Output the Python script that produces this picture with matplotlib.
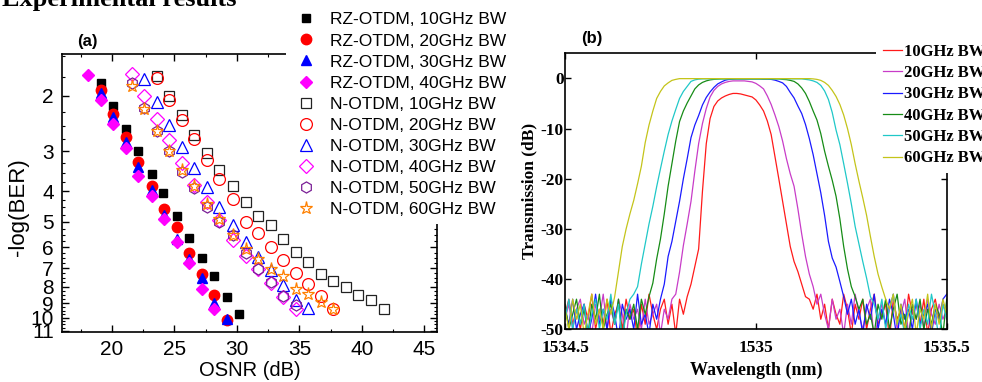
import numpy as np
import matplotlib.pyplot as plt
from matplotlib.ticker import FixedLocator, MultipleLocator, NullFormatter

plt.rcParams['axes.unicode_minus'] = False

# ---------------- (a) -log(BER) vs OSNR ----------------
rz10_x = [19.1, 20.1, 21.1, 22.1, 23.2, 24.1, 25.2, 26.2, 27.2, 28.2, 29.2, 30.2]
rz10_y = [1.82, 2.15, 2.55, 3.0, 3.54, 4.06, 4.8, 5.62, 6.5, 7.42, 8.61, 9.72]
rz20_x = [19.1, 20.1, 21.1, 22.1, 23.2, 24.2, 25.2, 26.2, 27.2, 28.2, 29.2]
rz20_y = [1.92, 2.28, 2.71, 3.24, 3.84, 4.54, 5.19, 6.25, 7.27, 8.51, 10.2]
rz30_x = [19.1, 20.1, 21.1, 22.1, 23.2, 24.2, 25.2, 26.2, 27.2, 28.2, 29.2]
rz30_y = [1.97, 2.34, 2.80, 3.36, 3.96, 4.77, 5.67, 6.52, 7.51, 9.02, 10.1]
rz40_x = [18.1, 19.1, 20.1, 21.1, 22.1, 23.2, 24.2, 25.2, 26.2, 27.2, 28.2]
rz40_y = [1.72, 2.06, 2.45, 2.93, 3.59, 4.13, 4.90, 5.80, 6.74, 8.11, 9.40]

n10_x = [23.6, 24.6, 25.6, 26.6, 27.6, 28.6, 29.7, 30.7, 31.7, 32.7, 33.7, 34.7,
         35.7, 36.7, 37.7, 38.7, 39.7, 40.7, 41.8]
n10_y = [1.73, 2.0, 2.31, 2.66, 3.04, 3.44, 3.85, 4.34, 4.80, 5.10, 5.67, 6.23,
         6.70, 7.30, 7.68, 8.01, 8.50, 8.79, 9.42]
n20_x = [23.6, 24.6, 25.6, 26.6, 27.6, 28.6, 29.7, 30.7, 31.7, 32.7, 33.7, 34.7,
         35.7, 36.7, 37.7]
n20_y = [1.76, 2.06, 2.38, 2.74, 3.19, 3.66, 4.23, 5.01, 5.41, 6.0, 6.59, 7.23,
         7.86, 8.56, 9.42]
n30_x = [22.6, 23.6, 24.6, 25.6, 26.6, 27.6, 28.6, 29.7, 30.7, 31.7, 32.7, 33.7,
         34.7, 35.7]
n30_y = [1.78, 2.10, 2.47, 2.91, 3.38, 3.89, 4.47, 5.11, 5.79, 6.43, 7.08, 7.87,
         8.83, 9.30]
n40_x = [21.6, 22.6, 23.6, 24.6, 25.6, 26.6, 27.6, 28.6, 29.7, 30.7, 31.7, 32.7,
         33.7, 34.7]
n40_y = [1.71, 2.01, 2.37, 2.76, 3.27, 3.82, 4.33, 4.92, 5.71, 6.39, 7.05, 7.80,
         8.63, 9.37]
n50_x = [21.6, 22.6, 23.6, 24.6, 25.6, 26.6, 27.6, 28.6, 29.7, 30.7, 31.7, 32.7,
         33.7, 34.7]
n50_y = [1.83, 2.19, 2.58, 2.99, 3.49, 3.92, 4.49, 5.01, 5.48, 6.26, 7.05, 7.73,
         8.55, 9.15]
n60_x = [21.6, 22.6, 23.6, 24.6, 25.6, 26.6, 27.6, 28.6, 29.7, 30.7, 31.7, 32.7,
         33.7, 34.7, 35.7, 36.7, 37.7]
n60_y = [1.87, 2.20, 2.58, 2.98, 3.44, 3.85, 4.38, 4.88, 5.48, 6.09, 6.52, 7.05,
         7.40, 8.15, 8.45, 8.93, 9.42]

ber_ticks = [2, 3, 4, 5, 6, 7, 8, 9, 10, 11]
osnr_ticks = [20, 25, 30, 35, 40, 45]

# ---------------- (b) filter transmission ----------------
wl = np.round(np.linspace(1534.5, 1535.5, 101), 2)  # OSA grid, 0.01 nm

t10 = ([-47, -44, -49, -46, -50, -45, -48, -43, -50, -46, -49, -44, -51, -47, -45, -50,
        -44, -48, -46, -52, -45, -49, -43, -47, -50, -46, -44, -49, -45, -51, -44, -47]
       + [-43.5, -41, -37.5, -34, -22.5, -13, -8, -5.6, -4.5, -3.9, -3.5, -3.2, -3.0, -3.0,
          -3.1, -3.3, -3.5, -3.7, -4.3, -5.3, -6.5, -8.5, -11.2, -15.6, -20, -24.5, -29,
          -33.5, -36.5, -38.5, -41, -43.5]
       + [-44, -46, -43, -48, -45, -50, -44, -47, -49, -43, -46, -51, -45, -48, -44, -50,
          -46, -43, -49, -47, -45, -52, -44, -48, -46, -50, -43, -47, -45, -49, -44, -51,
          -46, -44, -48, -45, -47])
t20 = ([-48, -45, -50, -46, -44, -49, -47, -51, -45, -48, -43, -50, -46, -49, -44, -47,
        -52, -45, -48, -46, -50, -44, -49, -47, -45, -51, -46, -48, -44]
       + [-43, -38.6, -33.3, -29, -24.5, -18.5, -13, -9, -6, -3.7, -2.4, -1.6, -1.1, -0.8,
          -0.6, -0.5, -0.5, -0.5, -0.5, -0.6, -0.7, -1.0, -1.5, -2.1, -3.5, -5.2, -7.3,
          -9.6, -12.5, -16, -19, -21.5, -26, -31, -35.5, -39, -41.5]
       + [-45, -43, -47, -50, -44, -48, -46, -51, -45, -49, -43, -47, -50, -46, -44, -52,
          -48, -45, -49, -46, -43, -50, -47, -44, -51, -46, -48, -45, -50, -44, -47, -49,
          -45, -48, -46])
t30 = ([-46, -49, -44, -50, -47, -45, -51, -48, -43, -49, -46, -50, -44, -47, -52, -45,
        -48, -46, -50, -43, -49, -47, -51, -45, -48, -44]
       + [-41, -35.5, -32.5, -28.5, -24.5, -20, -16, -11.8, -9.3, -7.4, -5.3, -3.8, -2.7,
          -1.8, -1.1, -0.7, -0.35, -0.2, -0.15, -0.1, -0.1, -0.1, -0.1, -0.1, -0.1, -0.1,
          -0.15, -0.15, -0.2, -0.35, -0.6, -0.9, -1.6, -2.8, -3.9, -5.5, -7, -9.2, -12,
          -15.2, -19, -22.8, -27.3, -32.5, -35.8, -37.6, -40.5, -43.5]
       + [-47, -44, -49, -46, -51, -45, -48, -43, -50, -46, -49, -44, -47, -52, -45, -48,
          -46, -50, -44, -49, -47, -45, -51, -46, -48, -44, -43])
t40 = ([-45, -50, -47, -44, -49, -46, -51, -45, -48, -43, -50, -47, -45, -49, -44, -52,
        -46, -48, -45, -50, -44, -47]
       + [-43.5, -40.8, -36, -32, -27, -21.5, -17, -12.5, -8.6, -6.5, -4.9, -3.5, -2.1,
          -1.3, -0.8, -0.5, -0.3, -0.2, -0.15, -0.1, -0.1, -0.1, -0.1, -0.1, -0.1, -0.1,
          -0.1, -0.1, -0.1, -0.1, -0.1, -0.1, -0.1, -0.1, -0.1, -0.2, -0.25, -0.4, -0.6,
          -1.1, -1.9, -3.0, -4.6, -6.5, -8.3, -11, -14.5, -17.5, -20.3, -23.5, -28, -33.5,
          -38, -41.5, -43.5]
       + [-46, -44, -49, -47, -51, -45, -48, -44, -50, -46, -43, -49, -47, -52, -45, -48,
          -44, -50, -46, -49, -45, -47, -51, -44])
t50 = ([-48, -44, -50, -46, -49, -45, -51, -47, -44, -50, -46, -48, -43, -49, -45, -52,
        -47, -44]
       + [-43, -41.5, -37, -33, -29, -25.5, -21.6, -18, -14.5, -11.2, -8.5, -6.2, -4, -2.6,
          -1.6, -0.6, -0.3, -0.15, -0.1, -0.1, -0.1, -0.1, -0.1, -0.1, -0.1, -0.1, -0.1,
          -0.1, -0.1, -0.1, -0.1, -0.1, -0.1, -0.1, -0.1, -0.1, -0.1, -0.1, -0.1, -0.1,
          -0.1, -0.1, -0.1, -0.1, -0.1, -0.2, -0.3, -0.5, -0.8, -1.4, -2.5, -4.2, -6.8,
          -10.3, -13.2, -17, -20.9, -25, -29.5, -33, -36.5, -39.8, -43.5]
       + [-45, -48, -44, -50, -46, -43, -49, -47, -51, -45, -48, -44, -50, -46, -49, -43,
          -47, -52, -45, -48])
t60 = ([-46, -50, -44, -48, -45, -51, -47, -43, -49, -46, -50, -44, -47]
       + [-43.5, -38.5, -33.5, -30, -27, -24.3, -21, -17.5, -12.8, -9.3, -6.5, -4, -2.6,
          -1.5, -0.9, -0.4, -0.2, -0.05, -0.05, -0.05, -0.05, -0.05, -0.05, -0.05, -0.05,
          -0.05, -0.05, -0.05, -0.05, -0.05, -0.05, -0.05, -0.05, -0.05, -0.05, -0.05,
          -0.05, -0.05, -0.05, -0.05, -0.05, -0.05, -0.05, -0.05, -0.05, -0.05, -0.05,
          -0.05, -0.05, -0.05, -0.05, -0.05, -0.1, -0.2, -0.4, -0.8, -1.4, -2.4, -3.6,
          -5.2, -7.3, -10, -13.2, -17, -20.5, -23.8, -27.3, -31.5, -35.5, -39, -41.6, -44]
       + [-46, -43, -49, -45, -50, -47, -44, -51, -46, -48, -43, -50, -45, -49, -44, -47])

filter_labels = ['10GHz BW', '20GHz BW', '30GHz BW', '40GHz BW', '50GHz BW', '60GHz BW']
filter_colors = ['#ff1a1a', '#c83cc8', '#1a1aff', '#168c16', '#20c8c8', '#c4c41a']

sans = 'Liberation Sans'
serif = 'Liberation Serif'

fig = plt.figure(figsize=(9.82, 3.82), dpi=100)

# ---- panel (a) ----
ax = fig.add_axes([0.0631, 0.1309, 0.3819, 0.7277])
mk = dict(linestyle='none')
ax.plot(rz10_x, rz10_y, marker='s', ms=6, color='black', label='RZ-OTDM, 10GHz BW', **mk)
ax.plot(rz20_x, rz20_y, marker='o', ms=7.5, color='#ff0000', label='RZ-OTDM, 20GHz BW', **mk)
ax.plot(rz30_x, rz30_y, marker='^', ms=7.5, color='#0000ff', label='RZ-OTDM, 30GHz BW', **mk)
ax.plot(rz40_x, rz40_y, marker='D', ms=6.5, color='#ff00ff', label='RZ-OTDM, 40GHz BW', **mk)
op = dict(linestyle='none', mfc='none', mew=0.9)
ax.plot(n10_x, n10_y, marker='s', ms=6.5, mec='#222222', label='N-OTDM, 10GHz BW', **op)
ax.plot(n20_x, n20_y, marker='o', ms=8.5, mec='#ff0000', label='N-OTDM, 20GHz BW', **op)
ax.plot(n30_x, n30_y, marker='^', ms=8.5, mec='#0000ff', label='N-OTDM, 30GHz BW', **op)
ax.plot(n40_x, n40_y, marker='D', ms=7, mec='#ff00ff', label='N-OTDM, 40GHz BW', **op)
ax.plot(n50_x, n50_y, marker='h', ms=8, mec='#7a1f96', label='N-OTDM, 50GHz BW', **op)
ax.plot(n60_x, n60_y, marker='*', ms=9.5, mec='#ff8000', label='N-OTDM, 60GHz BW', **op)

ax.set_yscale('log')
ax.set_ylim(11.1, 1.48)
ax.set_xlim(16, 46)
ax.yaxis.set_major_locator(FixedLocator(ber_ticks))
ax.yaxis.set_major_formatter(plt.FixedFormatter([str(t) for t in ber_ticks]))
ax.yaxis.set_minor_locator(FixedLocator(np.arange(1.5, 11.01, 0.25)))
ax.yaxis.set_minor_formatter(NullFormatter())
ax.xaxis.set_major_locator(FixedLocator(osnr_ticks))
ax.xaxis.set_minor_locator(MultipleLocator(2.5))
ax.tick_params(which='both', direction='in', top=True, right=True)
ax.tick_params(which='major', length=5, width=1)
ax.tick_params(which='minor', length=2.5, width=0.8)
ax.tick_params(axis='x', pad=6)
ax.tick_params(axis='y', pad=6)
for lab in ax.get_xticklabels() + ax.get_yticklabels():
    lab.set_fontfamily(sans)
    lab.set_fontsize(15)
for s in ax.spines.values():
    s.set_linewidth(1.2)
ax.set_xlabel('OSNR (dB)', fontsize=14.5, fontfamily=sans, labelpad=1)
ax.set_ylabel('-log(BER)', fontsize=16, fontfamily=sans)
ax.yaxis.set_label_coords(-0.088, 0.45)

fig.legend(*ax.get_legend_handles_labels(), loc='upper left',
           bbox_to_anchor=(0.291, 0.986), borderaxespad=0, frameon=True,
           facecolor='white', edgecolor='none', framealpha=1, fancybox=False,
           prop={'family': sans, 'size': 12.5}, handlelength=1.5,
           handletextpad=0.65, labelspacing=0.34, borderpad=0.4, numpoints=1)

# ---- panel (b) ----
bx = fig.add_axes([0.5754, 0.1380, 0.3887, 0.7225])
for vals, lab, col in zip([t10, t20, t30, t40, t50, t60], filter_labels, filter_colors):
    bx.plot(wl, vals, color=col, lw=0.9, label=lab)
bx.set_xlim(1534.5, 1535.5)
bx.set_ylim(-50, 5)
bx.set_xticks([1534.5, 1535, 1535.5])
bx.set_xticklabels(['1534.5', '1535', '1535.5'])
bx.set_yticks([0, -10, -20, -30, -40, -50])
bx.tick_params(direction='in', top=True, right=True, length=4, width=1)
bx.tick_params(axis='x', pad=8)
bx.tick_params(axis='y', pad=1)
for lab in bx.get_xticklabels() + bx.get_yticklabels():
    lab.set_fontfamily(serif)
    lab.set_fontweight('bold')
    lab.set_fontsize(12.5)
for s in bx.spines.values():
    s.set_linewidth(1.2)
bx.set_xlabel('Wavelength (nm)', fontsize=13, fontfamily=serif, fontweight='bold',
              labelpad=4)
bx.set_ylabel('Transmission (dB)', fontsize=12.5, fontfamily=serif, fontweight='bold',
              labelpad=2)

fig.legend(*bx.get_legend_handles_labels(), loc='upper left',
           bbox_to_anchor=(0.8925, 0.903), borderaxespad=0, frameon=True,
           facecolor='white', edgecolor='none', framealpha=1, fancybox=False,
           prop={'family': serif, 'weight': 'bold', 'size': 12}, handlelength=1.15,
           handletextpad=0.1, labelspacing=0.32, borderpad=0.4)

# ---- panel letters and clipped heading ----
fig.text(0.0886, 0.891, '(a)', fontsize=12, fontweight='bold', fontfamily=sans,
         ha='center', va='center')
fig.text(0.6029, 0.900, '(b)', fontsize=12, fontweight='bold', fontfamily=sans,
         ha='center', va='center')
fig.text(0.002, 1 - 6 / 382, 'Experimental results', fontsize=19, fontweight='bold',
         fontfamily=serif, ha='left', va='baseline')

fig.savefig('out.png', dpi=100)
